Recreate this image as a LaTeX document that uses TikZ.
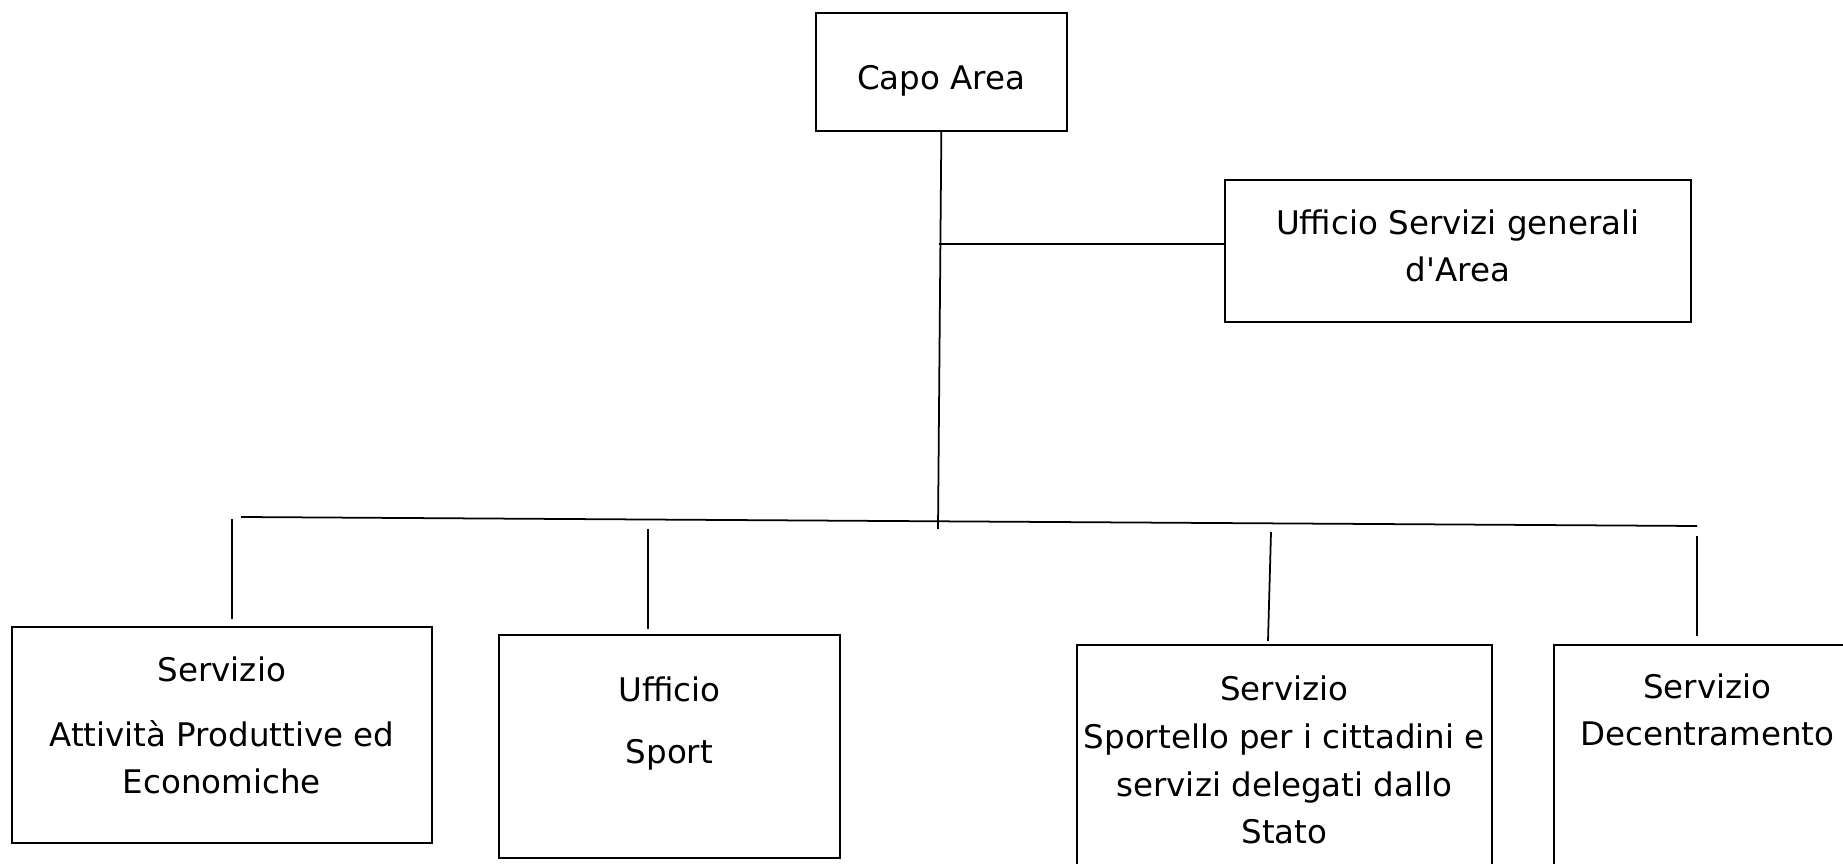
\documentclass[tikz,border=0pt]{standalone}
\usepackage{fontspec}
\setmainfont{DejaVu Sans}
\usetikzlibrary{calc}
\tikzset{
    orgbox/.style={draw, line width=1pt, inner sep=0pt, anchor=north west, align=center,
        font=\fontsize{18.5}{27.2}\selectfont},
    link/.style={line width=1pt},
}

\begin{document}
\begin{tikzpicture}[x=0.02cm, y=-0.02cm]
    \clip (0,0) rectangle (1843,864);
    % boxes (north west corners), text height = top to last baseline
    \node[orgbox, minimum width=5.02cm, text height=1.54cm, text depth=0.82cm] (capo) at (815,12) {Capo Area};
    \node[orgbox, minimum width=9.32cm, text height=2.04cm, text depth=0.8cm] (uff) at (1224,179) {Ufficio Servizi generali\\d\textquotesingle Area};
    \node[orgbox, minimum width=8.4cm, text height=3.34cm, text depth=0.98cm] (attiv) at (11,626) {Servizio\\[0.34cm]Attività Produttive ed\\Economiche};
    \node[orgbox, minimum width=6.82cm, text height=2.58cm, text depth=1.88cm] (sport) at (498,634) {Ufficio\\[0.3cm]Sport};
    \node[orgbox, minimum width=8.3cm, text height=3.98cm, text depth=0.74cm] (sportello) at (1076,644) {Servizio\\Sportello per i cittadini e\\servizi delegati dallo\\Stato};
    \node[orgbox, minimum width=6.14cm, text height=2.02cm, text depth=2.7cm] (decentr) at (1553,644) {Servizio\\Decentramento};
    % trunk and bus
    \coordinate (hub) at (938,529);
    \coordinate (branch) at (939,244);
    \draw[link] (capo.south) -- (hub);
    \draw[link] (branch) -- (branch -| uff.west);
    \coordinate (busL) at (241,517);
    \coordinate (busR) at (1697,526);
    \draw[link] (busL) -- (busR);
    % drops (not touching bus or boxes)
    \foreach \n/\xa/\ya/\xb/\yb in {1/232/519/232/619, 2/648/529/648/629, 3/1271/532/1268/641, 4/1697/536/1697/636} {
        \coordinate (drop\n a) at (\xa,\ya);
        \coordinate (drop\n b) at (\xb,\yb);
        \draw[link] (drop\n a) -- (drop\n b);
    }
\end{tikzpicture}
\end{document}
